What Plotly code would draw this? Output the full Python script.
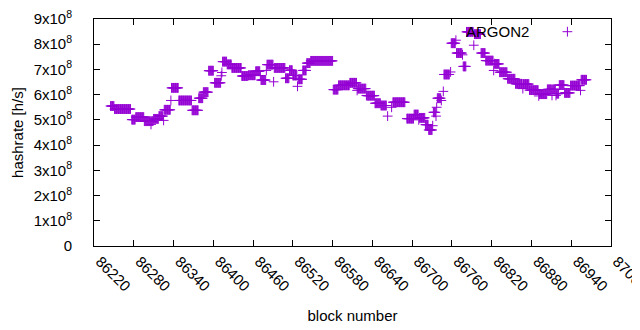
import plotly.graph_objects as go

# Runs of consecutive blocks sharing the same hashrate
run_start = [86245, 86251, 86277, 86283, 86296, 86306, 86307, 86310, 86318, 86325, 86326, 86336,
             86337, 86348, 86368, 86378, 86385, 86393, 86402, 86412, 86413, 86414, 86421, 86428,
             86443, 86453, 86464, 86471, 86472, 86480, 86481, 86491, 86492, 86509, 86515, 86520,
             86527, 86528, 86535, 86541, 86547, 86581, 86582, 86589, 86606, 86617, 86618, 86631,
             86632, 86644, 86653, 86663, 86669, 86671, 86692, 86703, 86710, 86711, 86720, 86725,
             86731, 86732, 86736, 86737, 86738, 86744, 86747, 86748, 86758, 86759, 86766, 86767,
             86776, 86777, 86782, 86793, 86794, 86804, 86811, 86823, 86824, 86825, 86832, 86844,
             86856, 86867, 86868, 86877, 86891, 86892, 86904, 86911, 86912, 86917, 86918, 86922,
             86930, 86939, 86954, 86955]
run_end = [86250, 86275, 86282, 86295, 86305, 86306, 86309, 86317, 86324, 86325, 86335, 86336,
           86347, 86367, 86377, 86384, 86392, 86400, 86411, 86412, 86413, 86420, 86427, 86442,
           86452, 86463, 86470, 86471, 86479, 86480, 86490, 86491, 86508, 86514, 86519, 86526,
           86527, 86534, 86540, 86546, 86580, 86581, 86588, 86605, 86616, 86617, 86630, 86631,
           86643, 86652, 86661, 86663, 86669, 86689, 86702, 86709, 86710, 86719, 86724, 86730,
           86731, 86735, 86736, 86737, 86743, 86744, 86747, 86756, 86758, 86765, 86766, 86775,
           86776, 86781, 86792, 86793, 86803, 86810, 86822, 86823, 86824, 86831, 86843, 86855,
           86866, 86867, 86876, 86890, 86891, 86903, 86910, 86911, 86916, 86917, 86921, 86929,
           86938, 86953, 86954, 86963]
run_hashrate = [5.55e8, 5.43e8, 5.01e8, 5.11e8, 4.95e8, 4.82e8, 4.95e8, 5.04e8, 5.15e8, 4.98e8, 5.40e8, 5.77e8,
                6.27e8, 5.77e8, 5.38e8, 5.86e8, 6.10e8, 6.95e8, 6.47e8, 6.75e8, 6.88e8, 7.31e8, 7.20e8, 7.06e8,
                6.74e8, 6.77e8, 6.93e8, 6.76e8, 6.58e8, 6.96e8, 7.19e8, 6.51e8, 7.06e8, 6.65e8, 6.97e8, 6.76e8,
                6.33e8, 6.61e8, 6.96e8, 7.25e8, 7.34e8, 6.20e8, 6.20e8, 6.37e8, 6.47e8, 6.17e8, 6.24e8, 5.97e8,
                5.96e8, 5.66e8, 5.57e8, 5.15e8, 5.50e8, 5.70e8, 5.05e8, 5.21e8, 5.00e8, 5.08e8, 4.81e8, 4.60e8,
                4.77e8, 5.30e8, 5.15e8, 5.50e8, 5.86e8, 5.77e8, 6.13e8, 6.80e8, 6.90e8, 8.04e8, 8.16e8, 7.65e8,
                7.58e8, 7.12e8, 8.49e8, 7.96e8, 8.40e8, 7.65e8, 7.35e8, 6.96e8, 7.23e8, 7.22e8, 6.89e8, 6.63e8,
                6.43e8, 6.24e8, 6.42e8, 6.18e8, 5.95e8, 6.02e8, 6.21e8, 5.97e8, 6.21e8, 5.97e8, 6.04e8, 6.38e8,
                6.07e8, 6.36e8, 6.17e8, 6.59e8]

x_tick_start = 86220
x_tick_step = 60
x_range = [86220, 87000]
y_tick_values = [0, 1e8, 2e8, 3e8, 4e8, 5e8, 6e8, 7e8, 8e8, 9e8]
y_tick_labels = ["0"] + [f"{k}x10<sup>8</sup>" for k in range(1, 10)]

blocks, rates = [], []
for s, e, v in zip(run_start, run_end, run_hashrate):
    for b in range(s, e + 1):
        blocks.append(b)
        rates.append(v)

COLOR = "#9400D3"
FONT = "Liberation Sans"

fig = go.Figure()
fig.add_trace(go.Scatter(
    x=blocks, y=rates, mode="markers", name="",
    marker=dict(symbol="cross-thin", size=7, color=COLOR, line=dict(width=1, color=COLOR)),
    showlegend=True,
))

axis_common = dict(
    showline=True, linecolor="black", linewidth=1, mirror="allticks",
    ticks="inside", ticklen=6, tickcolor="black", tickwidth=1,
    showgrid=False, zeroline=False, ticklabeloverflow="allow",
    tickfont=dict(family=FONT, size=15, color="black"),
)

fig.update_xaxes(
    range=x_range, tick0=x_tick_start, dtick=x_tick_step, tickmode="linear", tickformat="d",
    tickangle=45, ticklabelshift=6,
    title=dict(text="block number", font=dict(family=FONT, size=15, color="black"), standoff=17),
    **axis_common,
)
fig.update_yaxes(
    range=[0, 9e8], tickmode="array", tickvals=y_tick_values, ticktext=y_tick_labels,
    ticklabelstandoff=18,
    title=dict(text="hashrate [h/s]", font=dict(family=FONT, size=15, color="black"), standoff=6),
    **axis_common,
)

fig.add_annotation(
    text="ARGON2", xref="paper", yref="paper", x=0.845, y=0.944,
    xanchor="right", yanchor="middle", showarrow=False,
    font=dict(family=FONT, size=15, color="black"),
)

# page body adds an 8px offset; figure is sized so the plot lands where the reference has it
fig.update_layout(
    width=632, height=322, autosize=False,
    margin=dict(l=86, r=29, t=11, b=84, pad=0, autoexpand=False),
    paper_bgcolor="white", plot_bgcolor="white",
    font=dict(family=FONT, size=15, color="black"),
    legend=dict(x=0.877, y=0.943, xanchor="left", yanchor="middle",
                bgcolor="rgba(0,0,0,0)", font=dict(size=15), itemwidth=30),
)

fig.write_html("out.html")
